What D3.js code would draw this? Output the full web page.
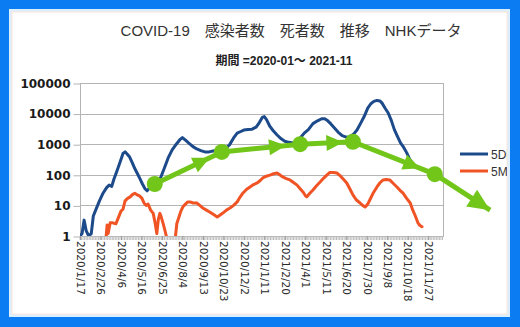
<!DOCTYPE html>
<html>
<head>
<meta charset="utf-8">
<script src="https://cdn.jsdelivr.net/npm/d3@7"></script>
<style>
  html, body { margin: 0; padding: 0; background: #ffffff; }
  svg { display: block; }
</style>
</head>
<body>
<svg id="chart" width="520" height="327"></svg>
<script>
// ---- text ----
const titleText = "COVID-19\u3000感染者数\u3000死者数\u3000推移\u3000NHKデータ";
const subtitleText = "期間 =2020-01～ 2021-11";
const legendNames = ["5DMA", "5MA"];

// ---- axes ----
const yTicks = [1, 10, 100, 1000, 10000, 100000];
const xTickLabels = [
  "2020/1/17", "2020/2/26", "2020/4/6", "2020/5/16", "2020/6/25", "2020/8/4",
  "2020/9/13", "2020/10/23", "2020/12/2", "2021/1/11", "2021/2/20", "2021/4/1",
  "2021/5/11", "2021/6/20", "2021/7/30", "2021/9/8", "2021/10/18", "2021/11/27"
];
const axisStart = "2020/1/17";
const axisEnd = "2021/12/26";

// ---- infections, 5-day moving average ----
const casesDates = [
  "2020-01-17","2020-01-21","2020-01-25","2020-01-29","2020-02-03","2020-02-08","2020-02-12","2020-02-18",
  "2020-02-24","2020-03-02","2020-03-09","2020-03-14","2020-03-19","2020-03-23","2020-03-29","2020-04-04",
  "2020-04-10","2020-04-14","2020-04-18","2020-04-23","2020-04-28","2020-05-03","2020-05-08","2020-05-13",
  "2020-05-18","2020-05-23","2020-05-27","2020-05-31","2020-06-05","2020-06-11","2020-06-17","2020-06-23",
  "2020-06-30","2020-07-07","2020-07-15","2020-07-23","2020-07-30","2020-08-04","2020-08-10","2020-08-16",
  "2020-08-24","2020-09-01","2020-09-09","2020-09-17","2020-09-25","2020-10-03","2020-10-11","2020-10-19",
  "2020-10-27","2020-11-04","2020-11-12","2020-11-19","2020-11-26","2020-12-02","2020-12-10","2020-12-18",
  "2020-12-26","2021-01-01","2021-01-07","2021-01-11","2021-01-15","2021-01-22","2021-01-28","2021-02-05",
  "2021-02-13","2021-02-20","2021-02-28","2021-03-08","2021-03-16","2021-03-22","2021-03-30","2021-04-07",
  "2021-04-16","2021-04-25","2021-05-03","2021-05-09","2021-05-15","2021-05-21","2021-05-28","2021-06-04",
  "2021-06-12","2021-06-20","2021-06-27","2021-07-04","2021-07-11","2021-07-18","2021-07-25","2021-08-01",
  "2021-08-07","2021-08-13","2021-08-19","2021-08-25","2021-08-29","2021-09-04","2021-09-10","2021-09-16",
  "2021-09-22","2021-09-28","2021-10-04","2021-10-10","2021-10-16","2021-10-22","2021-10-28"
];
const casesValues = [
  1, 1.2, 3.3, 1.5, 1, 1.2, 4.5, 8,
  14, 25, 38, 46, 42, 70, 130, 250,
  500, 560, 480, 380, 250, 160, 110, 75,
  50, 35, 30, 36, 42, 50, 60, 85,
  170, 350, 650, 1000, 1400, 1650, 1350, 1100,
  850, 700, 620, 560, 560, 600, 620, 650,
  720, 950, 1600, 2300, 2600, 2900, 3000, 3100,
  3600, 5000, 7500, 8000, 6500, 3800, 2800, 2000,
  1500, 1250, 1150, 1100, 1200, 1600, 2300, 3000,
  4700, 5800, 6800, 6800, 5800, 4600, 3400, 2500,
  1900, 1700, 1750, 2100, 2900, 4800, 8000, 15000,
  21000, 25000, 27000, 26000, 22000, 15000, 10500, 6000,
  3000, 1800, 1100, 800, 530, 320, 230
];

// ---- deaths, 5-day moving average ----
const deathsDates = [
  "2020-03-07","2020-03-10","2020-03-12","2020-03-16","2020-03-21","2020-03-27","2020-04-01","2020-04-06",
  "2020-04-10","2020-04-14","2020-04-19","2020-04-24","2020-04-29","2020-05-03","2020-05-08","2020-05-13",
  "2020-05-17","2020-05-21","2020-05-25","2020-05-29","2020-06-03","2020-06-08","2020-06-12","2020-06-15",
  "2020-06-18","2020-06-21","2020-06-24","2020-06-27","2020-07-01","2020-07-05","2020-07-10","2020-07-17",
  "2020-07-21","2020-07-24","2020-07-28","2020-08-01","2020-08-05","2020-08-10","2020-08-14","2020-08-19",
  "2020-08-25","2020-09-01","2020-09-07","2020-09-13","2020-09-20","2020-09-27","2020-10-04","2020-10-11",
  "2020-10-16","2020-10-22","2020-10-29","2020-11-05","2020-11-12","2020-11-19","2020-11-24","2020-11-30",
  "2020-12-07","2020-12-14","2020-12-21","2020-12-28","2021-01-03","2021-01-08","2021-01-15","2021-01-22",
  "2021-01-29","2021-02-05","2021-02-10","2021-02-16","2021-02-23","2021-03-02","2021-03-09","2021-03-16",
  "2021-03-22","2021-03-28","2021-04-01","2021-04-04","2021-04-09","2021-04-16","2021-04-23","2021-04-30",
  "2021-05-07","2021-05-13","2021-05-19","2021-05-26","2021-06-02","2021-06-09","2021-06-15","2021-06-21",
  "2021-06-27","2021-07-03","2021-07-10","2021-07-17","2021-07-22","2021-07-27","2021-08-01","2021-08-05",
  "2021-08-12","2021-08-19","2021-08-25","2021-08-31","2021-09-06","2021-09-13","2021-09-20","2021-09-27",
  "2021-10-03","2021-10-09","2021-10-16","2021-10-23","2021-10-28","2021-11-02","2021-11-07","2021-11-11",
  "2021-11-15"
];
const deathsValues = [
  0.6, 2.3, 1.2, 2.7, 2.7, 2.5, 4, 6.5,
  7.5, 14, 17, 19, 23, 25, 22, 20,
  17, 12, 10, 11, 7, 5.5, 2.5, 1.2,
  3.5, 5.5, 4, 2.7, 1.5, 0.8, 0.5, 0.5,
  0.8, 2.5, 4, 6.5, 9, 11, 13, 13,
  12, 12, 10, 8.2, 7, 6, 5, 4.2,
  4.8, 5.6, 7, 8.2, 10, 13, 18, 25,
  33, 40, 48, 54, 65, 79, 90, 98,
  108, 114, 100, 85, 75, 68, 56, 46,
  35, 27, 21, 19, 24, 32, 44, 58,
  78, 98, 120, 118, 114, 90, 70, 54,
  35, 22, 15, 12, 10, 8.9, 11, 15,
  26, 40, 55, 68, 70, 68, 52, 40,
  31, 25, 17, 12, 7, 4.5, 2.7, 2.2,
  2
];

// ---- trend annotation (date, value) ----
const trendDates = ["2020-06-11", "2020-10-20", "2021-03-22", "2021-07-03", "2021-12-10", "2022-03-28"];
const trendValues = [50, 560, 1000, 1200, 105, 7];

// ---- drawing ----
const W = 520, H = 327;
const plot = { left: 80, right: 443, top: 83, bottom: 236 };
const colors = { cases: "#1c4a8a", deaths: "#f05424", trend: "#72c61a", grid: "#b4b4b4" };

const parseIso = d3.timeParse("%Y-%m-%d");
const parseSlash = d3.timeParse("%Y/%m/%d");

const svg = d3.select("#chart");

// frame
svg.append("rect").attr("width", W).attr("height", H).attr("fill", "#0b7cf2");
svg.append("rect").attr("x", 9).attr("y", 9).attr("width", 501).attr("height", 308).attr("fill", "#dcefff");
svg.append("rect").attr("x", 12).attr("y", 12).attr("width", 495).attr("height", 302)
  .attr("fill", "#ffffff").attr("stroke", "#fbe6d8").attr("stroke-width", 1);

const x = d3.scaleTime()
  .domain([parseSlash(axisStart), parseSlash(axisEnd)])
  .range([plot.left, plot.right]);
const y = d3.scaleLog()
  .domain([1, 100000])
  .range([plot.bottom, plot.top]);

const defs = svg.append("defs");
defs.append("clipPath").attr("id", "plotClip")
  .append("rect").attr("x", plot.left).attr("y", plot.top)
  .attr("width", plot.right - plot.left).attr("height", plot.bottom - plot.top);
defs.append("clipPath").attr("id", "innerClip")
  .append("rect").attr("x", 12).attr("y", 12).attr("width", 495).attr("height", 302);

// titles
svg.append("text")
  .attr("x", 291).attr("y", 36)
  .attr("text-anchor", "middle")
  .attr("font-family", "'Liberation Sans', 'Noto Sans CJK JP', sans-serif")
  .attr("font-size", 15).attr("fill", "#333")
  .text(titleText);
svg.append("text")
  .attr("x", 284).attr("y", 65)
  .attr("text-anchor", "middle")
  .attr("font-family", "'Liberation Sans', 'Noto Sans CJK JP', sans-serif")
  .attr("font-size", 12).attr("font-weight", "bold").attr("fill", "#222")
  .text(subtitleText);

// grid lines
svg.append("g").selectAll("line").data(yTicks).join("line")
  .attr("x1", plot.left).attr("x2", plot.right)
  .attr("y1", d => Math.round(y(d)) + 0.5).attr("y2", d => Math.round(y(d)) + 0.5)
  .attr("stroke", colors.grid).attr("stroke-width", 1);
svg.append("rect")
  .attr("x", plot.left + 0.5).attr("y", plot.top + 0.5)
  .attr("width", plot.right - plot.left).attr("height", plot.bottom - plot.top)
  .attr("fill", "none").attr("stroke", colors.grid);

// y axis
const yAxis = d3.axisLeft(y).tickValues(yTicks).tickFormat(d3.format("d")).tickSize(7).tickPadding(3);
const gy = svg.append("g").attr("transform", `translate(${plot.left + 0.5},0.5)`).call(yAxis);
gy.select(".domain").remove();
gy.selectAll(".tick line").attr("stroke", colors.grid);
gy.selectAll(".tick text")
  .attr("font-family", "'DejaVu Sans', sans-serif")
  .attr("font-size", 12).attr("font-weight", "bold").attr("fill", "#1a1a1a");

// x axis: dense minor ticks, then labelled ticks
const minorTicks = d3.timeDay.range(parseSlash(axisStart), parseSlash(axisEnd), 3);
svg.append("g").selectAll("line").data(minorTicks).join("line")
  .attr("x1", d => x(d)).attr("x2", d => x(d))
  .attr("y1", plot.bottom).attr("y2", plot.bottom + 4)
  .attr("stroke", "#bdbdbd").attr("stroke-width", 1);

const labelDates = xTickLabels.map(parseSlash);
const xAxis = d3.axisBottom(x).tickValues(labelDates)
  .tickFormat((d, i) => xTickLabels[i]).tickSize(4).tickPadding(0);
const gx = svg.append("g").attr("transform", `translate(0,${plot.bottom})`).call(xAxis);
gx.select(".domain").remove();
gx.selectAll(".tick line").attr("stroke", "#9a9a9a");
gx.selectAll(".tick text")
  .attr("font-family", "'DejaVu Sans', sans-serif")
  .attr("font-size", 10.5).attr("fill", "#2a2a2a")
  .attr("text-anchor", "start")
  .attr("transform", "translate(0,5) rotate(90)")
  .attr("x", 0).attr("y", 0).attr("dy", "0.35em");

// series
const casesData = casesDates.map((d, i) => ({ date: parseIso(d), value: casesValues[i] }));
const deathsData = deathsDates.map((d, i) => ({ date: parseIso(d), value: deathsValues[i] }));
const line = d3.line().x(d => x(d.date)).y(d => y(d.value)).curve(d3.curveLinear);

const series = svg.append("g").attr("clip-path", "url(#plotClip)");
series.append("path").datum(deathsData).attr("d", line)
  .attr("fill", "none").attr("stroke", colors.deaths).attr("stroke-width", 3)
  .attr("stroke-linejoin", "round").attr("stroke-linecap", "round");
series.append("path").datum(casesData).attr("d", line)
  .attr("fill", "none").attr("stroke", colors.cases).attr("stroke-width", 3)
  .attr("stroke-linejoin", "round").attr("stroke-linecap", "round");

// legend
const legend = svg.append("g").attr("clip-path", "url(#innerClip)");
[colors.cases, colors.deaths].forEach((c, i) => {
  const ly = 154 + i * 17;
  legend.append("line").attr("x1", 460).attr("x2", 488).attr("y1", ly).attr("y2", ly)
    .attr("stroke", c).attr("stroke-width", 3);
  legend.append("text").attr("x", 491).attr("y", ly + 4.5)
    .attr("font-family", "'Liberation Sans', sans-serif").attr("font-size", 12)
    .attr("fill", "#333").text(legendNames[i]);
});

// trend annotation
const trendPts = trendDates.map((d, i) => [x(parseIso(d)), y(trendValues[i])]);
const trend = svg.append("g");
trend.append("path").attr("d", d3.line()(trendPts))
  .attr("fill", "none").attr("stroke", colors.trend).attr("stroke-width", 5)
  .attr("stroke-linejoin", "round");

function arrowHead(tip, angle, len, half) {
  const c = Math.cos(angle), s = Math.sin(angle);
  const bx = tip[0] - c * len, by = tip[1] - s * len;
  return `M${tip[0]},${tip[1]}L${bx - s * half},${by + c * half}L${bx + s * half},${by - c * half}Z`;
}
for (let i = 0; i < trendPts.length - 1; i++) {
  const a = trendPts[i], b = trendPts[i + 1];
  const ang = Math.atan2(b[1] - a[1], b[0] - a[0]);
  const last = i === trendPts.length - 2;
  const t = last ? 1 : 0.82;
  const tip = [a[0] + (b[0] - a[0]) * t, a[1] + (b[1] - a[1]) * t];
  trend.append("path").attr("d", arrowHead(tip, ang, last ? 22 : 17, last ? 10 : 8))
    .attr("fill", colors.trend);
}
trend.selectAll("circle").data(trendPts.slice(0, -1)).join("circle")
  .attr("cx", d => d[0]).attr("cy", d => d[1]).attr("r", 8)
  .attr("fill", colors.trend);
</script>
</body>
</html>
